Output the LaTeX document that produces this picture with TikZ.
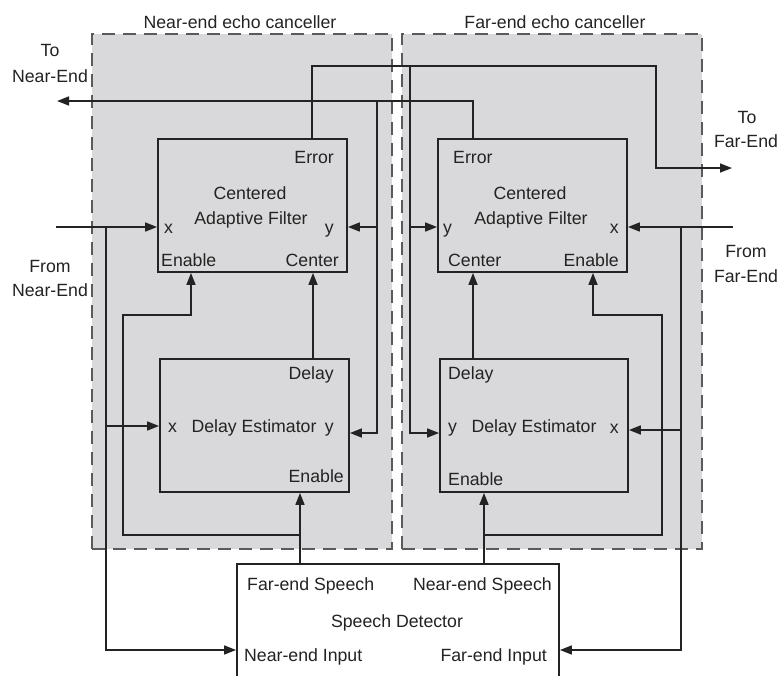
\documentclass[tikz,border=0pt]{standalone}
\usepackage{fontspec}
\setmainfont{Liberation Sans}
\usetikzlibrary{arrows.meta}
\definecolor{bggray}{RGB}{217,217,219}
\definecolor{ink}{RGB}{35,35,35}
\definecolor{dashgray}{RGB}{90,90,90}
\begin{document}
\begin{tikzpicture}[x=1pt,y=-1pt,
  font=\fontsize{17.7}{21}\selectfont,
  canc/.style={draw=dashgray, fill=bggray, line width=2pt, dash pattern=on 13pt off 8pt, inner sep=0pt, outer sep=0pt, minimum width=300pt, minimum height=515pt},
  blk/.style={draw=ink, line width=1.8pt, inner sep=0pt, minimum height=133pt},
  wire/.style={draw=ink, line width=1.6pt},
  arr/.style={wire, -{Triangle[length=12pt,width=9pt]}},
  lbl/.style={text=ink, inner sep=0pt, anchor=base},
  lblw/.style={lbl, anchor=base west},
  lble/.style={lbl, anchor=base east}]
\useasboundingbox (0,0) rectangle (779,675);
\clip (0,0) rectangle (779,675);

% canceller regions
\node[canc] (cancL) at (242,291.5) {};
\node[canc] (cancR) at (552,291.5) {};
\node[lbl] (titleL) at (240,28) {Near-end echo canceller};
\node[lbl] (titleR) at (555,28) {Far-end echo canceller};

% blocks
\node[blk, fill=bggray, minimum width=189pt] (cafL) at (252.5,205.5) {};
\node[blk, fill=bggray, minimum width=189pt] (deL) at (254.5,425.5) {};
\node[blk, fill=bggray, minimum width=189pt] (cafR) at (532.5,205.5) {};
\node[blk, fill=bggray, minimum width=188pt] (deR) at (534,425.5) {};
\node[blk, fill=white, minimum width=322pt, minimum height=136pt] (sd) at (398,632) {};

% coordinates
\coordinate (nearSrc) at (56,227);
\coordinate (jNear) at (106,227);
\coordinate (farSrc) at (733,227);
\coordinate (jFar) at (681,227);
\coordinate (toNear) at (57,101);
\coordinate (toFar) at (732,168);
\coordinate (eL) at (312,66);
\coordinate (eR) at (656,66);
\coordinate (bFar) at (410,66);
\coordinate (rE) at (473,101);
\coordinate (bNear) at (377,101);
\coordinate (cxL) at (313,0);
\coordinate (yDE) at (0,433);
\coordinate (xDEl) at (0,426);
\coordinate (xDEr) at (0,430);
\coordinate (inY) at (0,650);
\coordinate (enL) at (191,315);
\coordinate (bL1) at (123,315);
\coordinate (bL2) at (123,535);
\coordinate (fsL) at (300,535);
\coordinate (enR) at (593,315);
\coordinate (bR1) at (662,315);
\coordinate (bR2) at (662,535);
\coordinate (nsR) at (484,535);

% near-end input
\draw[arr] (nearSrc) -- (cafL.west |- nearSrc);
\draw[arr] (jNear) |- (sd.west |- inY);
\draw[arr] (jNear |- xDEl) -- (deL.west |- xDEl);
% far-end input
\draw[arr] (farSrc) -- (cafR.east |- farSrc);
\draw[arr] (jFar) |- (sd.east |- inY);
\draw[arr] (jFar |- xDEr) -- (deR.east |- xDEr);
% left error -> far end, and y of right canceller
\draw[arr] (cafL.north -| eL) -- (eL) -- (eR) |- (toFar);
\draw[arr] (bFar) |- (deR.west |- yDE);
\draw[arr] (bFar |- nearSrc) -- (cafR.west |- nearSrc);
% right error -> near end, and y of left canceller
\draw[arr] (cafR.north -| rE) -- (rE) -- (toNear);
\draw[arr] (bNear) |- (deL.east |- yDE);
\draw[arr] (bNear |- nearSrc) -- (cafL.east |- nearSrc);
% delay -> center
\draw[arr] (deL.north -| cxL) -- (cafL.south -| cxL);
\draw[arr] (deR.north -| rE) -- (cafR.south -| rE);
% speech detector -> enables
\draw[arr] (sd.north -| fsL) -- (deL.south -| fsL);
\draw[arr] (fsL) -- (bL2) -- (bL1) -- (enL) -- (cafL.south -| enL);
\draw[arr] (sd.north -| nsR) -- (deR.south -| nsR);
\draw[arr] (nsR) -- (bR2) -- (bR1) -- (enR) -- (cafR.south -| enR);

% outside labels
\node[lbl] (tToN1) at (50,56) {To};
\node[lbl] (tToN2) at (50,82) {Near-End};
\node[lbl] (tFrN1) at (50,272) {From};
\node[lbl] (tFrN2) at (50,296) {Near-End};
\node[lbl] (tToF1) at (747,123) {To};
\node[lbl] (tToF2) at (746,147) {Far-End};
\node[lbl] (tFrF1) at (746,257) {From};
\node[lbl] (tFrF2) at (746,282) {Far-End};

% left CAF labels
\node[lble] (lErr) at (334,163) {Error};
\node[lbl] (lCen1) at (250,199) {Centered};
\node[lbl] (lCen2) at (251,224) {Adaptive Filter};
\node[lblw] (lx) at (164,233) {x};
\node[lble] (ly) at (334,233) {y};
\node[lblw] (lEn) at (161,266) {Enable};
\node[lble] (lCt) at (339,266) {Center};
% left DE labels
\node[lble] (lDl) at (334,379) {Delay};
\node[lblw] (lx2) at (168,432) {x};
\node[lbl] (lDE) at (254,432) {Delay Estimator};
\node[lble] (ly2) at (334,432) {y};
\node[lble] (lEn2) at (344,482) {Enable};
% right CAF labels
\node[lblw] (rErr) at (453,163) {Error};
\node[lbl] (rCen1) at (530,199) {Centered};
\node[lbl] (rCen2) at (531,224) {Adaptive Filter};
\node[lblw] (ry) at (443,233) {y};
\node[lble] (rx) at (619,233) {x};
\node[lblw] (rCt) at (448,266) {Center};
\node[lble] (rEn) at (619,266) {Enable};
% right DE labels
\node[lblw] (rDl) at (448,379) {Delay};
\node[lblw] (ry2) at (448,432) {y};
\node[lbl] (rDE) at (534,432) {Delay Estimator};
\node[lble] (rx2) at (619,433) {x};
\node[lblw] (rEn2) at (448,485) {Enable};
% speech detector labels
\node[lblw] (sFs) at (247,590) {Far-end Speech};
\node[lble] (sNs) at (552,590) {Near-end Speech};
\node[lbl] (sSD) at (397,627) {Speech Detector};
\node[lblw] (sNi) at (244,661) {Near-end Input};
\node[lble] (sFi) at (547,661) {Far-end Input};
\end{tikzpicture}
\end{document}
